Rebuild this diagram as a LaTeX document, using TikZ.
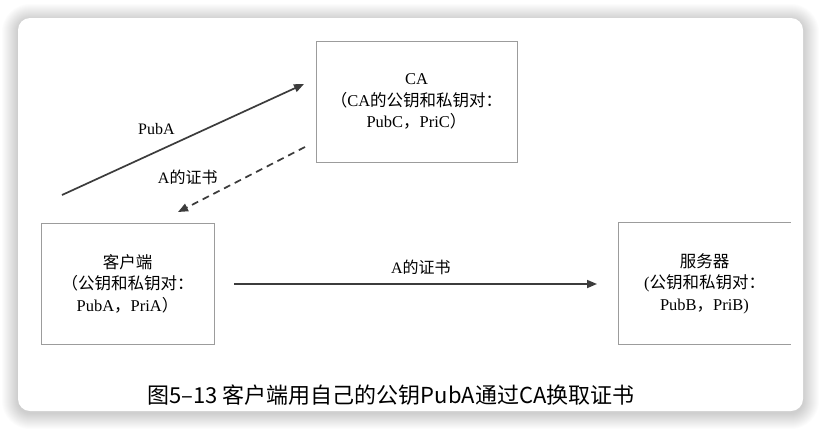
\documentclass[tikz,border=0pt]{standalone}
\usepackage{fontspec}
\usepackage{xcolor}
\setmainfont{Liberation Serif}
\newfontfamily\cjk{Noto Sans CJK SC}
\usetikzlibrary{arrows.meta}
\definecolor{boxgray}{HTML}{9C9C9C}
\definecolor{arrowgray}{HTML}{3C3C3C}
\newcommand\zh[1]{{\cjk #1}}

\begin{document}
\begin{tikzpicture}[x=1pt,y=1pt,
	keybox/.style={draw=boxgray,line width=1pt,inner sep=0pt,align=center,
		font=\fontsize{16.5}{21.5}\selectfont},
	boxline/.style={draw=boxgray,line width=1pt},
	flow/.style={draw=arrowgray,line width=1.7pt,-{Triangle[length=10pt,width=8pt]}},
	lbl/.style={font=\fontsize{16}{18}\selectfont}]
				\useasboundingbox (0,0) rectangle (821,-429);
				\fill [white] (0,0) rectangle (821,-429);
				\foreach \i in {1,...,16}
					\fill [black,opacity=0.011,rounded corners=12pt+\i pt] (18-\i,-18+\i-2) rectangle (803+\i,-411-\i-2);
				\fill [white,rounded corners=12pt] (18,-18) rectangle (803,-411);
				\node [keybox,minimum width=201pt,minimum height=121pt] (ca) at (416.5,-101.5) {CA\\\zh{（}CA\zh{的公钥和私钥对：}\\PubC\zh{，}PriC\zh{）}};
				\node [keybox,minimum width=173pt,minimum height=121pt] (client) at (127.5,-283.5) {\zh{客户端}\\\zh{（公钥和私钥对：}\\PubA\zh{，}PriA\zh{）}};
				\node [keybox,draw=none,minimum width=171pt,minimum height=121pt] (server) at (704.5,-283.5) {\zh{服务器}\\(\zh{公钥和私钥对：}\\PubB\zh{，}PriB)};
				\draw [boxline] (server.north east) -- (server.north west) -- (server.south west) -- (server.south east);
				\coordinate (puba-from) at (62,-195);
				\coordinate (puba-to) at (304,-84);
				\coordinate (cert-from) at (305,-147);
				\coordinate (cert-to) at (178,-212);
				\coordinate (send-from) at (234,-284);
				\coordinate (send-to) at (597,-284);
				\draw [flow] (puba-from) -- (puba-to) node [lbl,pos=0.39,yshift=23pt] (puba-lbl) {PubA};
				\draw [flow,dash pattern=on 7pt off 5pt] (cert-from) -- (cert-to) node [lbl,pos=0.75,xshift=-22pt,yshift=18pt] (cert-lbl) {A\zh{的证书}};
				\draw [flow] (send-from) -- (send-to) node [lbl,pos=0.515,yshift=17pt] (send-lbl) {A\zh{的证书}};
				\node [font=\cjk\fontsize{22}{26}\selectfont] (caption) at (391,-395) {图5–13 客户端用自己的公钥PubA通过CA换取证书};
			\end{tikzpicture}
\end{document}
